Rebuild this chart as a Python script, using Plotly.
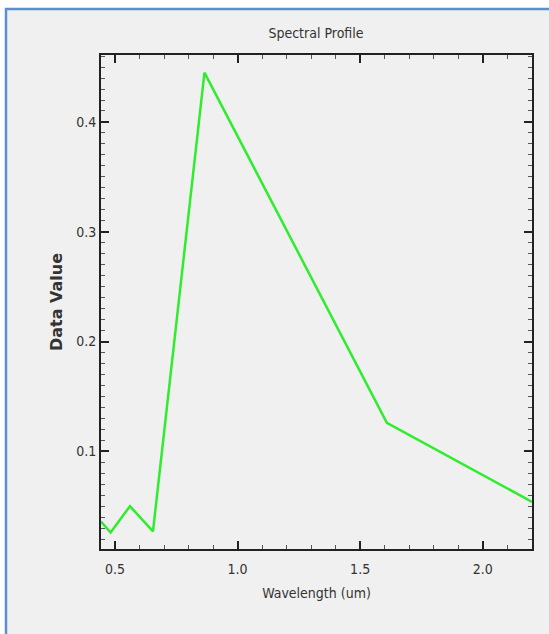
import plotly.graph_objects as go

# Band centre wavelengths (um) and the sampled reflectance values
wavelength_um = [0.443, 0.482, 0.561, 0.655, 0.865, 1.609, 2.201]
data_value = [0.036, 0.026, 0.050, 0.027, 0.445, 0.126, 0.054]

x_ticks = [0.5, 1.0, 1.5, 2.0]
y_ticks = [0.1, 0.2, 0.3, 0.4]

W, H = 549, 634
narrow = "DejaVu Sans Condensed, Liberation Sans Narrow, Arial Narrow, sans-serif"

fig = go.Figure()
fig.add_trace(go.Scatter(
    x=wavelength_um, y=data_value, mode="lines",
    line=dict(color="#2fec2f", width=2.5),
    showlegend=False, hoverinfo="x+y",
))

axis_common = dict(
    showgrid=False, zeroline=False,
    showline=True, linecolor="#222222", linewidth=2,
    mirror="ticks", ticks="inside", tickcolor="#222222",
    ticklen=8, tickwidth=1.5,
    tickfont=dict(family=narrow, size=14, color="#333333"),
    tickformat=".1f",
)

fig.update_xaxes(
    **axis_common,
    range=[0.443, 2.201], tickvals=x_ticks,
    ticklabelstandoff=6,
    minor=dict(dtick=0.1, tick0=0.0, ticks="inside", ticklen=4,
               tickcolor="#555555", tickwidth=1),
    title=dict(text="Wavelength (um)", standoff=12,
               font=dict(family=narrow, size=14, color="#333333")),
)
fig.update_yaxes(
    **axis_common,
    range=[0.011, 0.461], tickvals=y_ticks,
    minor=dict(dtick=0.01, tick0=0.0, ticks="inside", ticklen=4,
               tickcolor="#555555", tickwidth=1),
    title=dict(text="Data Value", standoff=10,
               font=dict(family="DejaVu Sans, Verdana, sans-serif", size=16,
                         color="#333333", weight="bold")),
)

# Light panel with a blue frame behind the chart
fig.add_shape(
    type="rect", xref="paper", yref="paper",
    x0=(6 - 101) / 431, x1=(W + 20 - 101) / 431,
    y0=-(H + 20 - 549) / 494, y1=1 + (55 - 9) / 494,
    fillcolor="#f0f0f0", line=dict(color="#5b8fd0", width=2.5),
    layer="below",
)

fig.update_layout(
    width=W, height=H,
    margin=dict(l=101, r=17, t=55, b=85),
    paper_bgcolor="#ffffff", plot_bgcolor="#f0f0f0",
    title=dict(text="Spectral Profile", x=316 / W, xanchor="center",
               y=1 - 33 / H, yanchor="middle",
               font=dict(family=narrow, size=14, color="#333333")),
)

fig.write_html("out.html")
